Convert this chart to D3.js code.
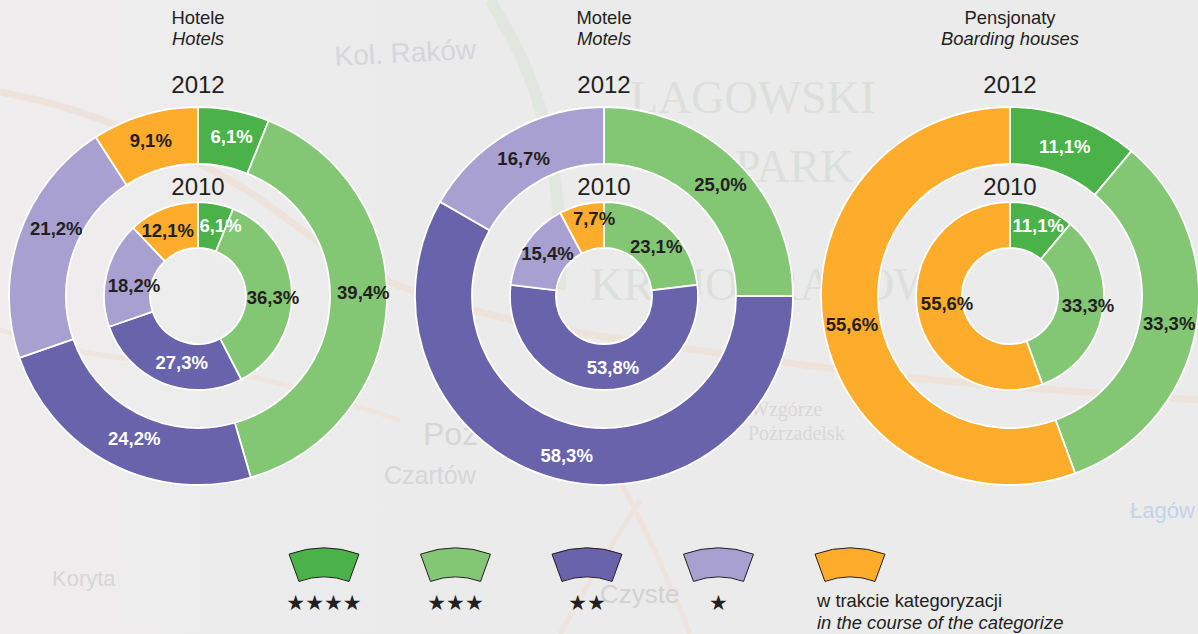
<!DOCTYPE html>
<html><head><meta charset="utf-8">
<script src="https://cdn.jsdelivr.net/npm/d3@7/dist/d3.min.js"></script>
<style>html,body{margin:0;padding:0;background:#ebebeb}svg{display:block}text{font-family:"Liberation Sans",Arial,sans-serif}</style>
</head><body><svg id="c" width="1198" height="634"></svg>
<script>
const categories=["★★★★","★★★","★★","★","w trakcie kategoryzacji"];
const categoriesEn=["","","","","in the course of the categorize"];
const colors=["#4ab248","#83c775","#6863ab","#a8a0d0","#fdac2c"];
const labelColors=["#fff","#231f20","#fff","#231f20","#231f20"];
const titlesPl=["Hotele","Motele","Pensjonaty"];
const titlesEn=["Hotels","Motels","Boarding houses"];
const hotels2012=[6.1,39.4,24.2,21.2,9.1];
const hotels2010=[6.1,36.3,27.3,18.2,12.1];
const motels2012=[0,25.0,58.3,16.7,0];
const motels2010=[0,23.1,53.8,15.4,7.7];
const boarding2012=[11.1,33.3,0,0,55.6];
const boarding2010=[11.1,33.3,0,0,55.6];
const seriesOuter=[hotels2012,motels2012,boarding2012];
const seriesInner=[hotels2010,motels2010,boarding2010];
// label nudges off the slice centroid, per chart and category
const nudgeOuter=[[[3,-2],[5,-12],[10,0],[10,-15],[-2,-2]],[[0,0],[3,2],[4,4],[0,1],[0,0]],[[0,1],[1,0],[0,0],[0,0],[0,0]]];
const nudgeInner=[[[9,-1],[4,5],[10,0],[5,6],[-4,0]],[[0,0],[5,3],[9,0],[2,-2],[7,-9]],[[4,-4],[8,-3],[0,0],[0,0],[7,-5]]];

const svg=d3.select("#c");
const fmt=d3.formatLocale({decimal:",",thousands:" ",grouping:[3],currency:["",""]}).format(".1f");
const ink="#231f20";

// faint map backdrop
const bg=svg.append("g");
const grad=svg.append("defs").append("linearGradient").attr("id","bgGrad");
grad.append("stop").attr("offset","0").attr("stop-color","#efeded");
grad.append("stop").attr("offset","0.35").attr("stop-color","#ebebeb");
grad.append("stop").attr("offset","1").attr("stop-color","#ebebeb");
bg.append("rect").attr("width",1198).attr("height",634).attr("fill","url(#bgGrad)");
const line=d3.line().curve(d3.curveBasis);
[[[[0,92],[90,110],[260,190],[330,260],[480,320],[700,350],[900,380],[1198,400]],"#eee3da",7],
 [[[0,330],[100,360],[230,365],[400,420]],"#eee5df",5],
 [[[620,480],[660,560],[690,634]],"#efe4dd",5],
 [[[640,500],[590,580],[560,634]],"#efe4dd",5]].forEach(([p,c,w])=>bg.append("path").attr("d",line(p)).attr("fill","none").attr("stroke",c).attr("stroke-width",w));
bg.append("path").attr("d",line([[490,0],[525,60],[545,120],[560,200],[560,290]])).attr("fill","none").attr("stroke","#e1e7df").attr("stroke-width",12);
[["Kol. Raków",335,66,28,"#d6d6da","sans-serif",-3],["LAGOWSKI",630,113,46,"#dddfdd","serif",0],["PARK",735,182,46,"#dddfdd","serif",0],
 ["KRAJOBRAZOWY",590,300,46,"#dddfdd","serif",0],["Poz",423,445,32,"#d6d6d6","sans-serif",0],["Czartów",384,484,25,"#d6d6d6","sans-serif",0],
 ["Wzgórze",750,416,20,"#d8d8d8","serif",0],["Pożrzadelsk",748,440,20,"#d8d8d8","serif",0],["Koryta",52,586,22,"#d6d6d6","sans-serif",0],
 ["Czyste",600,603,26,"#d2d2d2","sans-serif",0],["Łagów",1130,518,22,"#c3d4e8","sans-serif",0]]
 .forEach(([t,x,y,s,c,f,r])=>bg.append("text").text(t).attr("transform",`translate(${x},${y}) rotate(${r})`).attr("font-size",s).attr("fill",c).style("font-family",f==="serif"?"'Liberation Serif',serif":"'Liberation Sans',sans-serif"));

const pie=d3.pie().sort(null).value(d=>d);
const outerArc=d3.arc().innerRadius(132).outerRadius(189);
const innerArc=d3.arc().innerRadius(48).outerRadius(94);
const cx=d3.scalePoint().domain(d3.range(3)).range([198,1010]);
const cy=296;

function ring(g,vals,arc,nudge){
  const arcs=pie(vals).map((d,i)=>({...d,i})).filter(d=>d.value>0);
  g.selectAll(null).data(arcs).join("path").attr("d",arc).attr("fill",d=>colors[d.i]).attr("stroke","#fff").attr("stroke-width",1.8);
  return ()=>g.selectAll(null).data(arcs).join("text").attr("text-anchor","middle").attr("dy","0.36em")
    .attr("transform",d=>{const c=arc.centroid(d),n=nudge[d.i];return `translate(${c[0]+n[0]},${c[1]+n[1]})`;})
    .attr("font-size",18.5).attr("font-weight","bold").attr("fill",d=>labelColors[d.i]).text(d=>fmt(d.value)+"%");
}
d3.range(3).forEach(k=>{
  const g=svg.append("g").attr("transform",`translate(${cx(k)},${cy})`);
  const a=ring(g,seriesOuter[k],outerArc,nudgeOuter[k]);
  const b=ring(g,seriesInner[k],innerArc,nudgeInner[k]);
  a();b();
  const t=(s,y,fs,st)=>g.append("text").text(s).attr("text-anchor","middle").attr("y",y-cy).attr("font-size",fs).attr("fill",ink).attr("font-style",st||"normal");
  t(titlesPl[k],24,18.4);
  t(titlesEn[k],45,18.4,"italic");
  t("2012",93,24);
  t("2010",195,24);
});

// legend
const legendX=d3.scalePoint().domain(d3.range(5)).range([324,850]);
const swatch=d3.arc().innerRadius(73).outerRadius(102).startAngle(-0.35).endAngle(0.35);
categories.forEach((c,i)=>{
  const g=svg.append("g").attr("transform",`translate(${legendX(i)},0)`);
  g.append("path").attr("d",swatch()).attr("transform","translate(0,650)").attr("fill",colors[i]).attr("stroke",ink).attr("stroke-width",1);
  if(i<4){
    g.append("text").text(c).attr("text-anchor","middle").attr("y",610).attr("font-size",21).attr("fill",ink).style("font-family","'DejaVu Sans'");
  }else{
    g.append("text").text(c).attr("x",-33).attr("y",607).attr("font-size",18.4).attr("fill",ink);
    g.append("text").text(categoriesEn[i]).attr("x",-33).attr("y",629).attr("font-size",18.4).attr("font-style","italic").attr("fill",ink);
  }
});
</script></body></html>
